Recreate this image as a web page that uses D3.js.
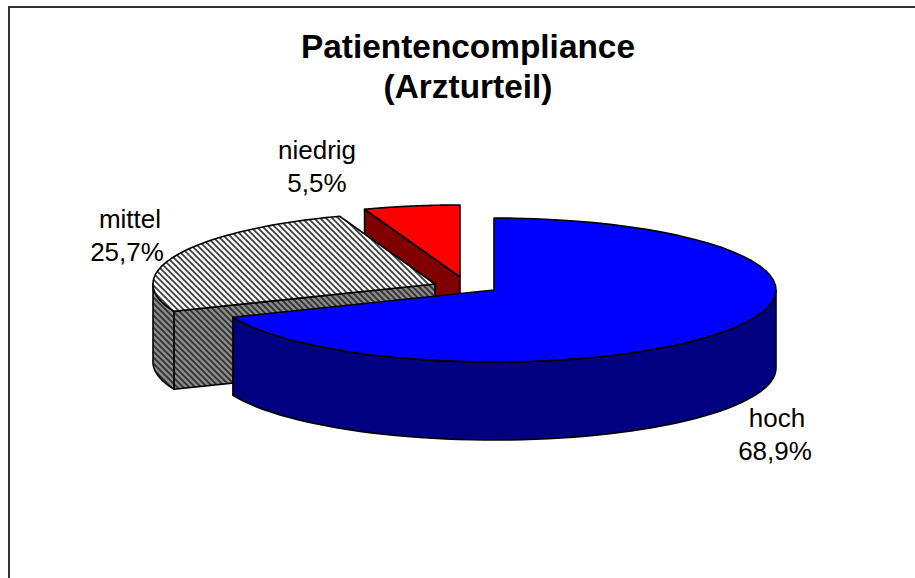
<!DOCTYPE html>
<html><head><meta charset="utf-8">
<script src="https://cdn.jsdelivr.net/npm/d3@7"></script>
<style>html,body{margin:0;padding:0;background:#fff;overflow:hidden}svg{display:block}text{font-family:"Liberation Sans",Arial,sans-serif;fill:#000}</style>
</head><body><svg id="c" width="915" height="578"></svg>
<script>
const categories = ["hoch", "mittel", "niedrig"];
const values = [68.9, 25.7, 5.5];
const valueLabels = ["68,9%", "25,7%", "5,5%"];
const titleLines = ["Patientencompliance", "(Arzturteil)"];

const svg = d3.select("#c");
const rx = 282, ry = 72, depth = 78;
const centers = {hoch:[494,290], mittel:[435,284], niedrig:[460,277]};
const topFill = {hoch:"#0000ff", mittel:"url(#hatchTop)", niedrig:"#ff0000"};
const sideFill = {hoch:"#000080", mittel:"url(#hatchSide)", niedrig:"#800000"};

const defs = svg.append("defs");
function hatch(id, bg, fg, w){
  const p = defs.append("pattern").attr("id", id).attr("patternUnits","userSpaceOnUse")
    .attr("width",6).attr("height",6);
  p.append("rect").attr("width",6).attr("height",6).attr("fill",bg);
  p.append("path").attr("d","M-3,-3L9,9M-3,3L3,9M3,-3L9,3").attr("stroke",fg).attr("stroke-width",w);
}
hatch("hatchTop","#ffffff","#404040",1.8);
hatch("hatchSide","#8a8a8a","#303030",1.8);

svg.append("path").attr("d","M9,578V7H915").attr("fill","none").attr("stroke","#333").attr("stroke-width",2);

const arcs = d3.pie().sort(null).value(d=>d)(values);
const data = arcs.map((a,i)=>({name:categories[i],start:a.startAngle,end:a.endAngle,c:centers[categories[i]]}));
const pt = (c,a,dy=0)=>[c[0]+rx*Math.sin(a), c[1]-ry*Math.cos(a)+dy];
const line = d3.line();
const sweep = (c,a0,a1,dy)=>d3.range(0,61).map(k=>pt(c,a0+(a1-a0)*k/60,dy));

["niedrig","mittel","hoch"].forEach(n=>{
  const s = data.find(d=>d.name===n), c = s.c;
  const g = svg.append("g").attr("stroke","#000").attr("stroke-width",1.6).attr("stroke-linejoin","round");
  const side = sideFill[n];
  if (n!=="hoch"){
    const p=pt(c,s.start);
    g.append("path").attr("d",line([c,p,[p[0],p[1]+depth],[c[0],c[1]+depth]])+"Z").attr("fill",side);
  }
  const intervals = [[Math.max(s.start,Math.PI/2),Math.min(s.end,3*Math.PI/2)]].filter(v=>v[0]<v[1]);
  intervals.forEach(([a0,a1])=>{
    const upper = sweep(c,a0,a1,0), lower = sweep(c,a1,a0,depth);
    g.append("path").attr("d",line(upper.concat(lower))+"Z").attr("fill",side);
  });
  const rim = sweep(c,s.start,s.end,0);
  g.append("path").attr("d",line([c].concat(rim))+"Z").attr("fill",topFill[n]);
});

svg.append("g").selectAll("text").data(titleLines).join("text")
  .attr("x",468).attr("y",(d,i)=>58+i*40).attr("text-anchor","middle")
  .attr("font-weight","bold").attr("font-size",33.4).text(d=>d);

const labelAnchor = {hoch:[777,427], mittel:[130,228], niedrig:[317,159]};
const valueOffset = {hoch:-2, mittel:-3, niedrig:0};
const labelGroup = svg.append("g").attr("font-size",26).attr("text-anchor","middle");
categories.forEach((n,i)=>{
  const [x,y]=labelAnchor[n];
  labelGroup.append("text").attr("x",x).attr("y",y).text(n);
  labelGroup.append("text").attr("x",x+valueOffset[n]).attr("y",y+33).text(valueLabels[i]);
});
</script></body></html>
